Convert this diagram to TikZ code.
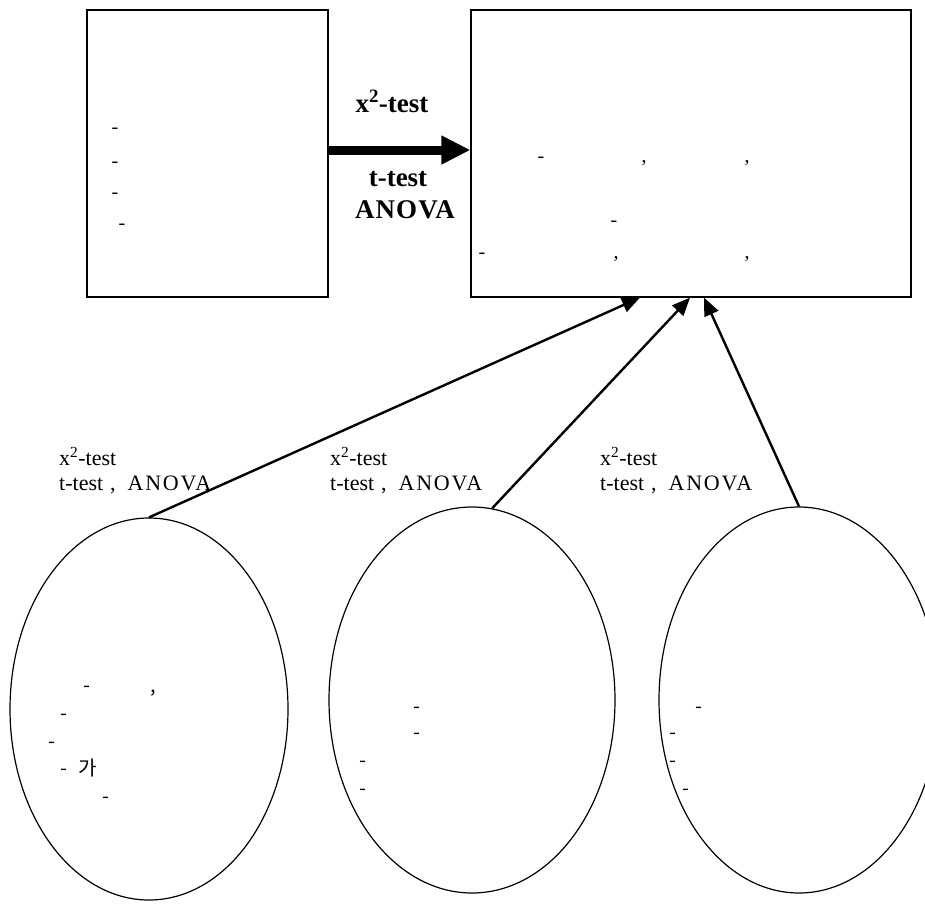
\documentclass[tikz,border=0pt]{standalone}
\usepackage{fontspec}
\setmainfont{Liberation Serif}
\newfontfamily\krfont{Noto Sans CJK KR}
\usetikzlibrary{arrows.meta,shapes.geometric}
\begin{document}
\begin{tikzpicture}[x=1pt,y=-1pt,
  box/.style={draw, line width=1.2pt, inner sep=0pt},
  oval/.style={draw, ellipse, line width=1.2pt, inner sep=0pt},
  link/.style={line width=2.4pt, -{Triangle[length=18pt,width=15pt]}},
  bigarrow/.style={line width=9pt, -{Triangle[length=29pt,width=27pt]}},
  lab/.style={font=\fontsize{22}{26}\selectfont, anchor=base west, inner sep=0pt},
  blab/.style={font=\fontsize{27}{30}\selectfont\bfseries, anchor=base, inner sep=0pt},
  sym/.style={font=\fontsize{20}{24}\selectfont, anchor=base, inner sep=0pt},
  ksym/.style={font=\krfont\fontsize{20}{24}\selectfont, anchor=base, inner sep=0pt},
]
\useasboundingbox (0,0) rectangle (925,905);

% boxes
\node[box, minimum width=241pt, minimum height=287pt] (lbox) at (207.5,153.5) {};
\node[box, minimum width=440pt, minimum height=287pt] (rbox) at (691,153.5) {};

% ellipses
\node[oval, minimum width=278pt, minimum height=382pt] (e1) at (149,709) {};
\node[oval, minimum width=286pt, minimum height=386pt] (e2) at (472,700) {};
\node[oval, minimum width=280pt, minimum height=386pt] (e3) at (799,700) {};

% main arrow
\draw[bigarrow] ([yshift=3.5pt]lbox.east) -- ([yshift=3.5pt]rbox.west);
\node[blab] (bl1) at (392,112) {x\textsuperscript{2}-test};
\node[blab] (bl2) at (398,186) {t-test};
\node[blab] (bl3) at (405,218) {\addfontfeature{LetterSpace=4}ANOVA};

% links
\coordinate (t1) at ([xshift=-51pt]rbox.south);
\coordinate (t2) at ([xshift=-1pt]rbox.south);
\coordinate (t3) at ([xshift=13pt]rbox.south);
\draw[link] (e1.north) -- (t1);
\draw[link] (e2.84) -- (t2);
\draw[link] (e3.north) -- (t3);

% link labels
\node[lab] (a1) at (59,465) {x\textsuperscript{2}-test};
\node[lab] (b1) at (59,490) {t-test\hspace{7pt},\hspace{12pt}{\addfontfeature{LetterSpace=8}ANOVA}};
\node[lab] (a2) at (330,465) {x\textsuperscript{2}-test};
\node[lab] (b2) at (330,490) {t-test\hspace{7pt},\hspace{12pt}{\addfontfeature{LetterSpace=8}ANOVA}};
\node[lab] (a3) at (600,465) {x\textsuperscript{2}-test};
\node[lab] (b3) at (600,490) {t-test\hspace{7pt},\hspace{12pt}{\addfontfeature{LetterSpace=8}ANOVA}};

% left box text
\node[sym] (l1) at (115,133) {-};
\node[sym] (l2) at (115,167) {-};
\node[sym] (l3) at (115,198) {-};
\node[sym] (l4) at (122,229) {-};

% right box text
\node[sym] (r1) at (541,162) {-};
\node[sym] (r2) at (644,162) {,};
\node[sym] (r3) at (747,162) {,};
\node[sym] (r4) at (614,226) {-};
\node[sym] (r5) at (482,258) {-};
\node[sym] (r6) at (616,258) {,};
\node[sym] (r7) at (747,258) {,};

% ellipse 1 text
\node[ksym] (p1) at (87,692) {-};
\node[ksym] (p2) at (153,692) {,};
\node[ksym] (p3) at (64,720) {-};
\node[ksym] (p4) at (52,748) {-};
\node[ksym] (p5) at (64,775) {-};
\node[ksym] (p6) at (88,775) {가};
\node[ksym] (p7) at (106,803) {-};

% ellipse 2 text
\node[ksym] (q1) at (417,713) {-};
\node[ksym] (q2) at (417,739) {-};
\node[ksym] (q3) at (363,767) {-};
\node[ksym] (q4) at (363,795) {-};

% ellipse 3 text
\node[ksym] (s1) at (699,713) {-};
\node[ksym] (s2) at (673,739) {-};
\node[ksym] (s3) at (673,767) {-};
\node[ksym] (s4) at (686,795) {-};
\end{tikzpicture}
\end{document}
